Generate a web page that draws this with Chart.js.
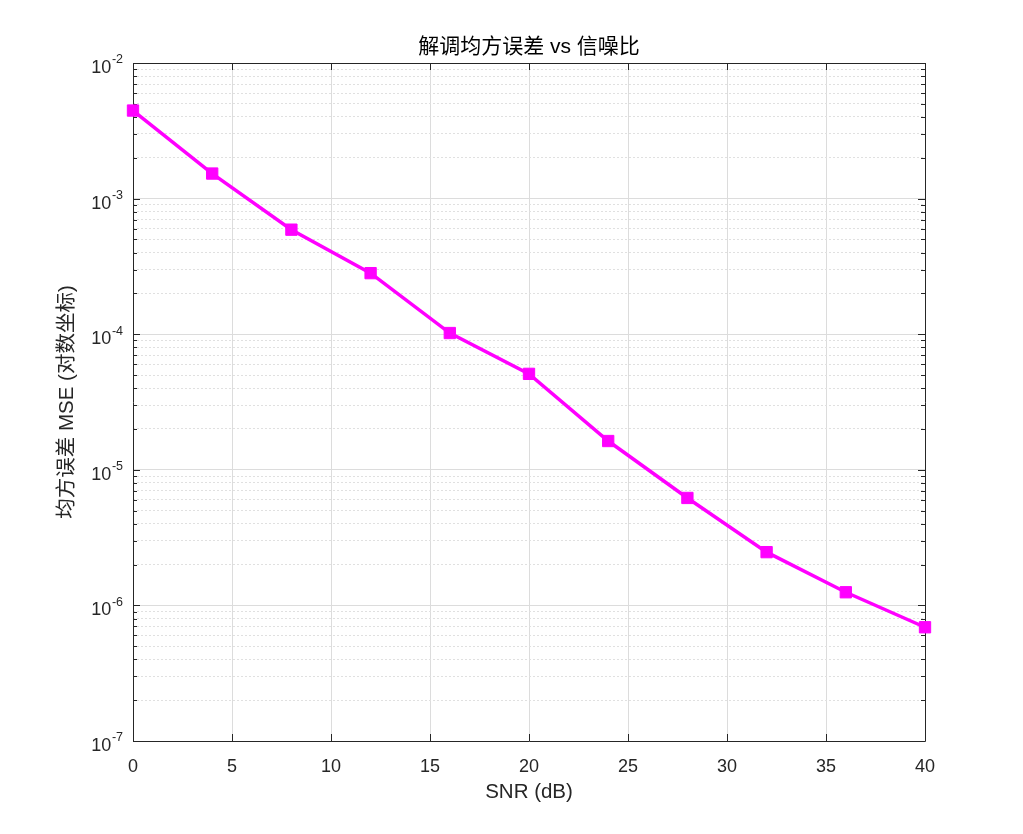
<!DOCTYPE html>
<html>
<head>
<meta charset="utf-8">
<script src="https://cdn.jsdelivr.net/npm/chart.js@4.4.1/dist/chart.umd.min.js"></script>
<style>
  html, body { margin: 0; padding: 0; background: #fff; }
  #wrap { width: 1023px; height: 834px; }
</style>
</head>
<body>
<div id="wrap"><canvas id="mseChart" width="1023" height="834"></canvas></div>
<script>
// data
const snrDb = [0, 4, 8, 12, 16, 20, 24, 28, 32, 36, 40];
const mseValues = [4.46e-3, 1.53e-3, 5.9e-4, 2.82e-4, 1.02e-4, 5.1e-5, 1.63e-5, 6.2e-6, 2.47e-6, 1.25e-6, 6.9e-7];
const xTicks = [0, 5, 10, 15, 20, 25, 30, 35, 40];
const yDecades = [-7, -6, -5, -4, -3, -2];
const titleText = '解调均方误差 vs 信噪比';

const FONT = '"Liberation Sans", Arial, "Noto Sans CJK SC", sans-serif';
const AXIS_COLOR = '#262626';
const MAJOR_GRID = '#dcdcdc';
const MINOR_GRID = '#e0e0e0';
const LINE_COLOR = '#ff00ff';

const isDecade = v => Math.abs(Math.log10(v) - Math.round(Math.log10(v))) < 1e-6;

// major decades plus 2..9 minors between them
function logTicks() {
  const out = [];
  yDecades.forEach((e, i) => {
    const base = Math.pow(10, e);
    out.push({ value: base, major: true });
    if (i < yDecades.length - 1) {
      for (let m = 2; m <= 9; m++) out.push({ value: m * base, major: false });
    }
  });
  return out;
}

// MATLAB style box, inward ticks, 10^n labels and a title centred on the axes
const matlabAxes = {
  id: 'matlabAxes',
  beforeDatasetsDraw(chart) {
    const { ctx, chartArea: a, scales: { x, y } } = chart;
    ctx.save();
    ctx.strokeStyle = AXIS_COLOR;
    ctx.lineWidth = 1;
    ctx.beginPath();
    ctx.rect(Math.round(a.left) + 0.5, Math.round(a.top) + 0.5,
             Math.round(a.right - a.left), Math.round(a.bottom - a.top));
    ctx.stroke();

    ctx.beginPath();
    xTicks.forEach(v => {
      const px = Math.round(x.getPixelForValue(v)) + 0.5;
      ctx.moveTo(px, a.bottom); ctx.lineTo(px, a.bottom - 7);
      ctx.moveTo(px, a.top); ctx.lineTo(px, a.top + 7);
    });
    y.ticks.forEach(t => {
      const py = Math.round(y.getPixelForValue(t.value)) + 0.5;
      const len = isDecade(t.value) ? 7 : 4;
      ctx.moveTo(a.left, py); ctx.lineTo(a.left + len, py);
      ctx.moveTo(a.right, py); ctx.lineTo(a.right - len, py);
    });
    ctx.stroke();
    ctx.restore();
  },
  afterDraw(chart) {
    const { ctx, chartArea: a, scales: { y } } = chart;
    ctx.save();
    ctx.fillStyle = AXIS_COLOR;
    ctx.textBaseline = 'middle';
    yDecades.forEach(e => {
      const py = y.getPixelForValue(Math.pow(10, e));
      const exp = String(e);
      ctx.font = '12.5px ' + FONT;
      const ew = ctx.measureText(exp).width;
      const right = 123;
      ctx.textAlign = 'left';
      ctx.fillText(exp, right - ew, py - 3);
      ctx.font = '18px ' + FONT;
      ctx.textAlign = 'right';
      ctx.fillText('10', right - ew - 0.5, py + 5);
    });

    ctx.fillStyle = '#000';
    ctx.font = '21px ' + FONT;
    ctx.textAlign = 'center';
    ctx.fillText(titleText, (a.left + a.right) / 2, 47);
    ctx.restore();
  }
};

new Chart(document.getElementById('mseChart'), {
  type: 'line',
  data: {
    datasets: [{
      label: 'MSE',
      data: snrDb.map((s, i) => ({ x: s, y: mseValues[i] })),
      borderColor: LINE_COLOR,
      backgroundColor: LINE_COLOR,
      borderWidth: 3.5,
      pointStyle: 'rect',
      pointRadius: 8,
      pointBorderWidth: 1,
      pointBackgroundColor: LINE_COLOR,
      pointBorderColor: LINE_COLOR,
      tension: 0,
      clip: false,
    }]
  },
  options: {
    responsive: false,
    animation: false,
    devicePixelRatio: 1,
    layout: { padding: { left: 0, right: 98, top: 63, bottom: 0 } },
    plugins: {
      legend: { display: false },
      tooltip: { enabled: false },
      title: { display: false }
    },
    scales: {
      x: {
        type: 'linear',
        min: 0,
        max: 40,
        afterBuildTicks: s => { s.ticks = xTicks.map(v => ({ value: v })); },
        afterFit: s => { s.height = 93; },
        ticks: { color: AXIS_COLOR, font: { family: FONT, size: 18 }, padding: 15, maxRotation: 0 },
        grid: { color: MAJOR_GRID, lineWidth: 1, drawTicks: false },
        border: { display: false },
        title: {
          display: true,
          text: 'SNR (dB)',
          color: AXIS_COLOR,
          font: { family: FONT, size: 20.5 },
          padding: { top: 0, bottom: 29 },
        }
      },
      y: {
        type: 'logarithmic',
        min: 1e-7,
        max: 1e-2,
        afterBuildTicks: s => { s.ticks = logTicks(); },
        afterFit: s => { s.width = 133; },
        ticks: { callback: () => '', autoSkip: false },
        grid: {
          drawTicks: false,
          lineWidth: 1,
          color: c => (c.tick && isDecade(c.tick.value)) ? MAJOR_GRID : MINOR_GRID,
        },
        border: {
          display: false,
          dash: c => (c.tick && isDecade(c.tick.value)) ? [] : [2, 2],
        },
        title: {
          display: true,
          text: '均方误差 MSE (对数坐标)',
          color: AXIS_COLOR,
          font: { family: FONT, size: 20.5 },
          padding: { top: 55, bottom: 0 },
        }
      }
    }
  },
  plugins: [matlabAxes]
});
</script>
</body>
</html>
